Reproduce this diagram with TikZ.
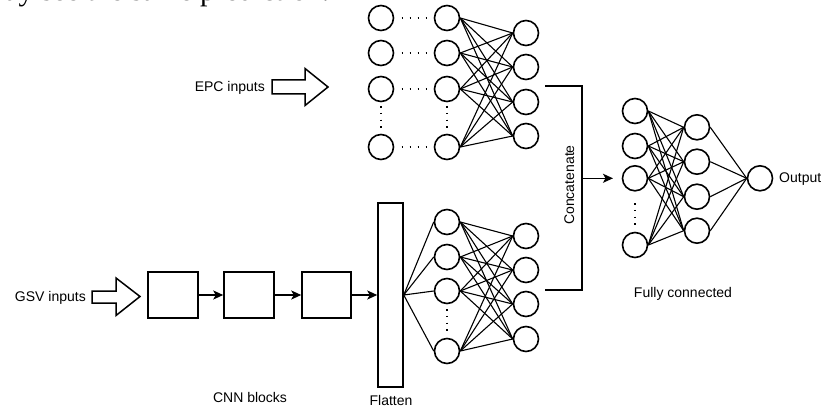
\documentclass[tikz,border=0pt]{standalone}
\usepackage{fontspec}
\setmainfont{Liberation Sans}
\newfontfamily\serifcut{Liberation Serif}
\usetikzlibrary{arrows.meta}
\begin{document}
\begin{tikzpicture}[x=1pt,y=-1pt,
  neuron/.style={circle,draw,line width=1.6pt,minimum size=25pt,inner sep=0pt,fill=white},
  cnnbox/.style={rectangle,draw,line width=1.5pt,minimum height=46pt,inner sep=0pt},
  link/.style={line width=1.1pt},
  flow/.style={line width=1.5pt,-{Stealth[length=10pt,width=9pt,inset=2.5pt]}},
  plainline/.style={line width=1.5pt},
  blockarrow/.style={draw,line width=1.5pt,fill=white,line join=miter},
  lbl/.style={font=\fontsize{14}{16}\selectfont,inner sep=0pt},
  hdots/.style={line width=1.6pt,dash pattern=on 1.6pt off 6.4pt},
  vdots/.style={line width=1.6pt,dash pattern=on 1.6pt off 5.2pt}]
\useasboundingbox (0,0) rectangle (821,406);
\fill[white] (0,0) rectangle (821,406);
% cropped caption text at the very top
\begin{scope}
  \clip (0,0) rectangle (821,406);
  \node[anchor=base west,inner sep=0pt,font=\serifcut\fontsize{30}{32}\selectfont] (cuttext) at (5,1) {ay see the same prediction.};
\end{scope}
% ---------- top (EPC) network ----------
\foreach \i/\y in {1/18,2/53,3/89,4/147} {
  \node[neuron] (ta\i) at (381,\y) {};
  \node[neuron] (tb\i) at (447,\y) {};
}
\foreach \i/\y in {1/33,2/67,3/102,4/136}
  \node[neuron] (tc\i) at (526,\y) {};
\foreach \i in {1,...,4}
  \foreach \j in {1,...,4}
    \draw[link] (tb\i.east) -- (tc\j.west);
\foreach \y in {18,53,89,147}
  \draw[hdots] (401.5,\y) -- (428,\y);
\draw[vdots] (381,106) -- (381,128);
\draw[vdots] (447,106) -- (447,128);
\node[lbl,anchor=base east] (epc) at (265,92) {EPC inputs};
\draw[blockarrow] (272,80) -- (305,80) -- (305,68.5) -- (328,87) -- (305,105.5) -- (305,94) -- (272,94) -- cycle;
% ---------- bottom (GSV) branch ----------
\node[lbl,anchor=base east] (gsv) at (86,301) {GSV inputs};
\draw[blockarrow] (92,291) -- (116,291) -- (116,278) -- (140,296.5) -- (116,315.5) -- (116,303) -- (92,303) -- cycle;
\node[cnnbox,minimum width=50pt] (c1) at (173,295) {};
\node[cnnbox,minimum width=50pt] (c2) at (249,295) {};
\node[cnnbox,minimum width=49pt] (c3) at (326.5,295) {};
\node[rectangle,draw,line width=1.5pt,minimum width=25pt,minimum height=184pt,inner sep=0pt] (flat) at (390.5,295) {};
\draw[flow] (c1.east) -- (c2.west);
\draw[flow] (c2.east) -- (c3.west);
\draw[flow] (c3.east) -- (flat.west);
\node[lbl,anchor=base] (cnnlbl) at (250,402.5) {CNN blocks};
\node[lbl,anchor=base] (flatlbl) at (391,405.5) {Flatten};
\foreach \i/\y in {1/222,2/257,3/291,4/351}
  \node[neuron] (ba\i) at (447,\y) {};
\foreach \i/\y in {1/236,2/270,3/304,4/339}
  \node[neuron] (bb\i) at (526,\y) {};
\foreach \i in {1,...,4} {
  \draw[link] (flat.east) -- (ba\i.west);
  \foreach \j in {1,...,4}
    \draw[link] (ba\i.east) -- (bb\j.west);
}
\draw[vdots] (447,309) -- (447,331);
% ---------- concatenate bracket ----------
\coordinate (topend) at (545,86);
\coordinate (botend) at (545,290);
\coordinate (brtop) at (582,86);
\coordinate (brbot) at (582,290);
\coordinate (brmid) at (582,178.3);
\coordinate (catin) at (613,178.3);
\draw[plainline] (topend) -- (brtop) -- (brbot) -- (botend);
\draw[flow] (brmid) -- (catin);
\node[lbl,rotate=90,anchor=base] (catlbl) at (574,185) {Concatenate};
% ---------- fully connected ----------
\foreach \i/\y in {1/111,2/146,3/178.3,4/245}
  \node[neuron] (fa\i) at (635,\y) {};
\foreach \i/\y in {1/127.3,2/161.7,3/196.7,4/230.7}
  \node[neuron] (fb\i) at (697,\y) {};
\node[neuron] (out) at (760,178.3) {};
\foreach \i in {1,...,4} {
  \foreach \j in {1,...,4}
    \draw[link] (fa\i.east) -- (fb\j.west);
  \draw[link] (fb\i.east) -- (out.west);
}
\draw[vdots] (635,203) -- (635,225);
\node[lbl,anchor=base west] (outlbl) at (779,182.3) {Output};
\node[lbl,anchor=base] (fclbl) at (683,297.7) {Fully connected};
\end{tikzpicture}
\end{document}
